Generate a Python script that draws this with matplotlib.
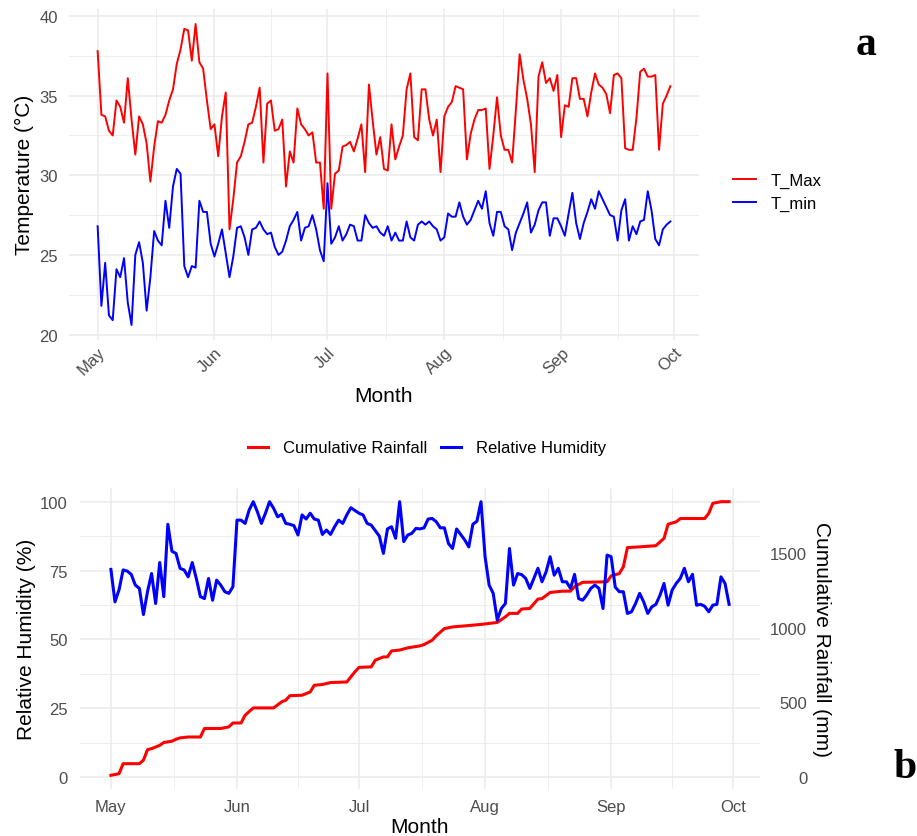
import matplotlib
matplotlib.use("Agg")
import matplotlib.pyplot as plt
import matplotlib.dates as mdates
from matplotlib.ticker import MultipleLocator, FixedLocator
import numpy as np
import pandas as pd

plt.rcParams['font.family'] = ['Liberation Sans', 'DejaVu Sans']

# daily series, 1 May .. 30 Sep
start = '2023-05-01'
t_max = [37.8, 33.8, 33.7, 32.8, 32.5, 34.7, 34.3, 33.3, 36.1, 33.5,
         31.3, 33.7, 33.2, 32.0, 29.6, 31.8, 33.4, 33.3, 33.8, 34.7,
         35.4, 37.0, 37.9, 39.2, 39.1, 37.2, 39.5, 37.1, 36.7, 34.7,
         32.9, 33.2, 31.2, 33.7, 35.2, 26.6, 28.5, 30.8, 31.2, 32.1,
         33.2, 33.3, 34.3, 35.5, 30.8, 34.5, 34.7, 32.8, 32.9, 33.5,
         29.3, 31.5, 30.8, 34.2, 33.2, 32.9, 32.5, 32.7, 30.8, 30.8,
         27.9, 36.4, 27.9, 30.1, 30.3, 31.8, 31.9, 32.1, 31.5, 32.3,
         33.2, 30.2, 35.7, 33.4, 31.3, 32.4, 30.4, 30.3, 33.2, 31.0,
         31.8, 32.5, 35.4, 36.4, 32.4, 32.2, 35.4, 35.4, 33.5, 32.5,
         33.5, 30.2, 33.7, 34.3, 34.6, 35.6, 35.5, 35.4, 31.0, 32.6,
         33.5, 34.1, 34.1, 34.2, 30.4, 32.5, 34.9, 32.5, 31.6, 31.6,
         30.8, 34.1, 37.6, 36.0, 34.8, 33.2, 30.2, 36.2, 37.1, 35.8,
         36.1, 35.3, 36.3, 32.4, 34.4, 34.3, 36.1, 36.1, 34.8, 34.8,
         33.7, 35.2, 36.4, 35.7, 35.5, 35.1, 33.9, 36.3, 36.4, 36.1,
         31.7, 31.6, 31.6, 33.6, 36.5, 36.7, 36.2, 36.2, 36.3, 31.6,
         34.5, 35.0, 35.6]
t_min = [26.8, 21.8, 24.5, 21.2, 20.9, 24.1, 23.6, 24.8, 22.0, 20.6,
         25.0, 25.8, 24.5, 21.5, 23.6, 26.5, 25.9, 25.6, 28.4, 26.7,
         29.3, 30.4, 30.1, 24.3, 23.6, 24.3, 24.2, 28.4, 27.7, 27.7,
         25.7, 24.9, 25.7, 26.6, 25.1, 23.6, 24.9, 26.7, 26.8, 26.1,
         25.0, 26.6, 26.7, 27.1, 26.6, 26.3, 26.4, 25.5, 25.0, 25.2,
         25.9, 26.8, 27.2, 27.7, 25.9, 26.7, 26.8, 27.5, 26.6, 25.3,
         24.6, 29.5, 25.7, 26.1, 26.8, 25.9, 26.3, 26.9, 26.8, 25.9,
         25.9, 27.5, 27.0, 26.7, 26.8, 26.4, 26.2, 26.8, 25.9, 26.4,
         25.9, 25.9, 27.1, 26.1, 25.9, 26.9, 27.1, 26.9, 27.1, 26.8,
         26.6, 25.9, 26.1, 27.6, 27.4, 27.4, 28.3, 27.4, 26.9, 27.2,
         27.8, 28.4, 27.9, 29.0, 27.0, 26.2, 27.7, 27.7, 26.8, 26.6,
         25.3, 26.4, 27.0, 27.6, 28.3, 26.4, 26.9, 27.8, 28.3, 28.3,
         26.2, 27.3, 27.3, 26.8, 26.2, 27.6, 28.9, 27.0, 26.0, 27.0,
         27.7, 28.5, 27.9, 29.0, 28.5, 28.0, 27.5, 27.4, 25.9, 27.8,
         28.5, 25.9, 26.8, 26.3, 27.1, 27.2, 29.0, 27.8, 26.0, 25.6,
         26.6, 26.9, 27.1]
rh = [75.4, 63.6, 68.0, 75.2, 74.8, 73.6, 69.7, 68.5, 59.0, 67.3,
      73.9, 63.0, 77.9, 65.5, 91.8, 82.0, 81.2, 75.8, 75.2, 72.7,
      77.9, 72.1, 65.5, 64.8, 72.1, 64.2, 71.5, 69.7, 67.3, 66.7,
      69.1, 93.3, 93.3, 92.1, 97.0, 100.0, 96.4, 92.1, 95.8, 100.0,
      97.6, 94.5, 95.4, 92.1, 91.8, 91.3, 87.9, 95.2, 93.7, 95.8,
      93.7, 93.3, 88.1, 89.7, 88.1, 90.9, 93.3, 92.1, 95.2, 97.8,
      96.8, 95.8, 95.2, 92.1, 91.5, 89.5, 87.5, 81.2, 90.1, 90.9,
      86.7, 100.0, 85.5, 87.9, 88.5, 90.3, 90.1, 90.5, 93.7, 93.9,
      92.7, 90.5, 90.5, 84.8, 83.0, 90.1, 88.1, 86.1, 83.6, 91.8,
      92.9, 100.0, 80.0, 69.7, 66.7, 57.0, 61.2, 63.0, 83.0, 69.7,
      73.9, 73.5, 72.1, 68.5, 72.1, 75.8, 70.9, 74.5, 80.0, 73.3,
      75.8, 70.9, 70.9, 68.5, 73.6, 64.8, 64.2, 66.1, 68.5, 69.7,
      68.5, 61.2, 80.6, 80.0, 69.0, 67.3, 67.3, 59.4, 60.0, 63.0,
      66.7, 63.6, 59.4, 61.8, 62.7, 66.0, 70.3, 62.4, 67.9, 70.3,
      72.1, 75.8, 70.9, 73.6, 62.4, 62.7, 62.0, 60.0, 62.4, 62.7,
      72.7, 70.3, 62.7]

# cumulative rainfall (mm), days after 1 May where the total changes
rain_day = [0, 2, 3, 7, 8, 9, 10, 12, 13, 15, 16, 17, 19, 22, 23, 27, 29, 30,
            32, 33, 35, 40, 42, 43, 44, 47, 49, 50, 52, 54, 58, 60, 61, 64,
            65, 67, 68, 69, 71, 73, 76, 77, 79, 80, 82, 84, 87, 91, 95, 97,
            98, 100, 101, 103, 105, 106, 108, 111, 113, 114, 116, 122, 123,
            125, 126, 127, 130, 134, 136, 137, 139, 140, 146, 147, 148, 150,
            152]
rain_mm = [11, 22, 89, 89, 113, 183, 190, 212, 231, 240, 253, 262, 268, 268,
           325, 325, 336, 362, 362, 414, 463, 463, 504, 515, 545, 548, 570,
           615, 620, 633, 637, 705, 735, 738, 783, 805, 805, 845, 851, 866,
           879, 888, 917, 947, 995, 1006, 1013, 1023, 1036, 1074, 1097, 1097,
           1126, 1130, 1193, 1196, 1237, 1246, 1246, 1276, 1305, 1309, 1349,
           1364, 1410, 1538, 1543, 1551, 1600, 1695, 1711, 1733, 1733, 1768,
           1835, 1846, 1846]

month_ticks = ['2023-05-01', '2023-06-01', '2023-07-01', '2023-08-01',
               '2023-09-01', '2023-10-01']
month_labels = ['May', 'Jun', 'Jul', 'Aug', 'Sep', 'Oct']

dates = pd.date_range(start, periods=len(t_max), freq='D')
rain_dates = pd.Timestamp(start) + pd.to_timedelta(rain_day, unit='D')

W, H = 917, 837


def fx(px):
    return px / W


def fy(py):
    return 1 - py / H


GRID = '#EBEBEB'
TICK = '#4D4D4D'


def style(ax):
    for s in ax.spines.values():
        s.set_visible(False)
    major = mdates.date2num(pd.to_datetime(month_ticks))
    ax.xaxis.set_major_locator(FixedLocator(major))
    ax.xaxis.set_minor_locator(FixedLocator((major[:-1] + major[1:]) / 2))
    ax.set_xticklabels(month_labels)
    ax.tick_params(which='both', length=0, labelsize=12, labelcolor=TICK)
    ax.grid(which='major', color=GRID, lw=1.1)
    ax.grid(which='minor', color=GRID, lw=0.6)
    ax.set_axisbelow(True)
    ax.margins(0.05)


fig = plt.figure(figsize=(W / 100, H / 100), dpi=100)

# ---- panel a: temperature
ax1 = fig.add_axes([fx(69), fy(341), fx(699) - fx(69), fy(10) - fy(341)])
l_max, = ax1.plot(dates, t_max, color='#FF0000', lw=1.4)
l_min, = ax1.plot(dates, t_min, color='#0000FF', lw=1.4)
style(ax1)
ax1.yaxis.set_major_locator(MultipleLocator(5))
ax1.yaxis.set_minor_locator(MultipleLocator(2.5))
ax1.tick_params(axis='y', pad=8)
ax1.tick_params(axis='x', pad=3)
plt.setp(ax1.get_xticklabels(), rotation=45, ha='right', va='top',
         rotation_mode='anchor')

fig.text(fx(24), fy(175), 'Temperature (°C)', rotation=90, fontsize=15,
         ha='center', va='center')
fig.text(fx(384), fy(397), 'Month', fontsize=15, ha='center', va='center')
fig.legend([l_max, l_min], ['T_Max', 'T_min'], loc='center left',
           bbox_to_anchor=(fx(733), fy(193)), frameon=False, fontsize=12,
           handlelength=1.35, handletextpad=0.9, labelspacing=0.45,
           borderpad=0, borderaxespad=0)

# ---- panel b: humidity and cumulative rainfall
scale = max(rain_mm) / 100
ax2 = fig.add_axes([fx(80), fy(790), fx(760) - fx(80), fy(489) - fy(790)])
l_rain, = ax2.plot(rain_dates, np.array(rain_mm) / scale, color='#FF0000',
                   lw=2.2)
l_rh, = ax2.plot(dates, rh, color='#0000FF', lw=2.2)
style(ax2)
ax2.yaxis.set_major_locator(MultipleLocator(25))
ax2.yaxis.set_minor_locator(MultipleLocator(12.5))
ax2.tick_params(axis='y', pad=9)
ax2.tick_params(axis='x', pad=7)

sec = ax2.secondary_yaxis('right', functions=(lambda v: v * scale,
                                              lambda v: v / scale))
sec.set_yticks([0, 500, 1000, 1500])
sec.tick_params(length=0, labelsize=12, labelcolor=TICK, pad=34)
for s in sec.spines.values():
    s.set_visible(False)
for lbl in sec.get_yticklabels():
    lbl.set_ha('right')

fig.text(fx(27), fy(639), 'Relative Humidity (%)', rotation=90, fontsize=15,
         ha='center', va='center')
fig.text(fx(822), fy(640), 'Cumulative Rainfall (mm)', rotation=270,
         fontsize=15, ha='center', va='center')
fig.text(fx(420), fy(828), 'Month', fontsize=15, ha='center', va='center')
fig.legend([l_rain, l_rh], ['Cumulative Rainfall', 'Relative Humidity'],
           loc='center', bbox_to_anchor=(fx(427), fy(449)), ncol=2,
           frameon=False, fontsize=12, handlelength=1.2, handletextpad=0.9,
           columnspacing=0.85, borderpad=0, borderaxespad=0)

# panel letters
fig.text(fx(866), fy(55), 'a', fontsize=30, fontweight='bold',
         family='Liberation Serif', ha='center', va='baseline')
fig.text(fx(905), fy(778), 'b', fontsize=30, fontweight='bold',
         family='Liberation Serif', ha='center', va='baseline')

fig.savefig('out.png', dpi=100)
